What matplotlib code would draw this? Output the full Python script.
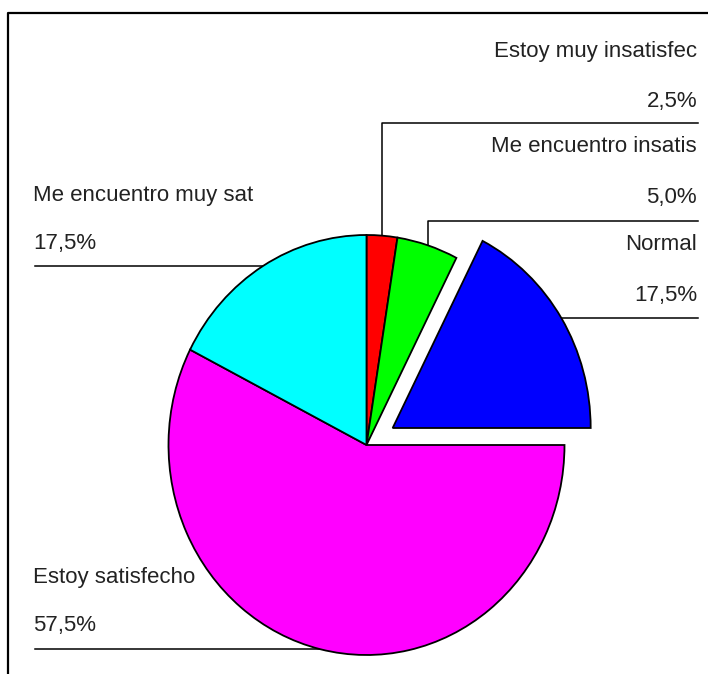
import numpy as np
import matplotlib.pyplot as plt

labels = ['Estoy muy insatisfec', 'Me encuentro insatis', 'Normal',
          'Estoy satisfecho', 'Me encuentro muy sat']
values = [2.5, 5.0, 17.5, 57.5, 17.5]
pct_labels = ['2,5%', '5,0%', '17,5%', '57,5%', '17,5%']
colors = ['#ff0000', '#00ff00', '#0000ff', '#ff00ff', '#00ffff']
explode = [0, 0, 0.155, 0, 0]

# label placement in pixels: side, name y, percent y, leader y (None = level with slice)
label_pos = [
    ('right', 52, 102, 123),
    ('right', 147, 198, 221),
    ('right', 245, 296, None),
    ('left', 577, 625, None),
    ('left', 196, 243, None),
]

W, H = 708, 674
CX, CY = 366.5, 445      # pie centre, pixels from top-left
RX, RY = 198, 210        # pie is a touch taller than wide


def to_data(px, py):
    return (px - CX) / RX, (CY - py) / RY


def to_px(x, y):
    return CX + x * RX, CY - y * RY


plt.rcParams['font.family'] = ['Liberation Sans', 'DejaVu Sans']

fig = plt.figure(figsize=(W / 100, H / 100), dpi=100)
ax = fig.add_axes([0, 0, 1, 1])
wedges, _ = ax.pie(values, colors=colors, explode=explode, startangle=90,
                   counterclock=False,
                   wedgeprops=dict(edgecolor='black', linewidth=1.3))
ax.set_aspect('auto')
x0, y0 = to_data(0, H)
x1, y1 = to_data(W, 0)
ax.set_xlim(x0, x1)
ax.set_ylim(y0, y1)
ax.axis('off')

txt = dict(fontsize=16, color='#222222', va='center')
for w, name, pct, (side, ny, py, ly) in zip(wedges, labels, pct_labels, label_pos):
    mid = np.deg2rad((w.theta1 + w.theta2) / 2)
    cx, cy = w.center
    apx, apy = to_px(cx + w.r * np.cos(mid), cy + w.r * np.sin(mid))
    if ly is None:
        ly = apy
    if side == 'right':
        xs = [apx, apx, 698]
        tx, ha = 697, 'right'
    else:
        xs = [apx, apx, 35]
        tx, ha = 33, 'left'
    pts = [to_data(xs[0], apy), to_data(xs[1], ly), to_data(xs[2], ly)]
    ax.plot([p[0] for p in pts], [p[1] for p in pts], color='black',
            lw=1.1, clip_on=False, zorder=0)
    ax.text(*to_data(tx, ny), name, ha=ha, **txt)
    ax.text(*to_data(tx, py), pct, ha=ha, **txt)

# outer frame (left and top edges visible)
fx, fy = to_data(8, H + 5)
gx, gy = to_data(8, 13)
hx, hy = to_data(W + 5, 13)
ax.plot([fx, gx, hx], [fy, gy, hy], color='black', lw=1.6, clip_on=False)

fig.savefig('out.png', dpi=100)
